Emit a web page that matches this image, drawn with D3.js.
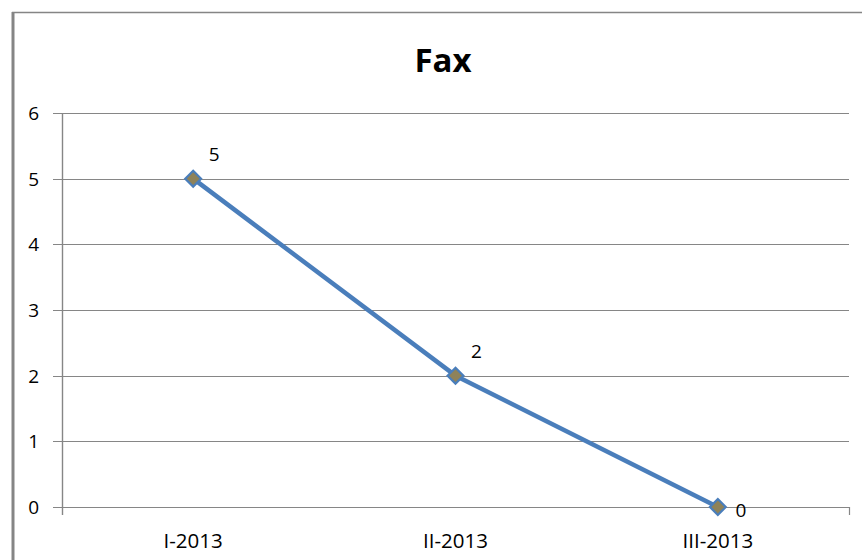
<!DOCTYPE html>
<html><head><meta charset="utf-8">
<script src="https://cdn.jsdelivr.net/npm/d3@7"></script>
<style>body{margin:0;background:#fff}svg{display:block}</style>
</head><body>
<svg id="c" width="862" height="560"></svg>
<script>
const categories = ["I-2013", "II-2013", "III-2013"];
const values = [5, 2, 0];
const yTicks = [0, 1, 2, 3, 4, 5, 6];
const title = "Fax";

(function () {
const svg = d3.select("#c");
const font = "'Open Sans', 'Liberation Sans', sans-serif";

// outer chart border
svg.append("line").attr("x1", 13).attr("x2", 13).attr("y1", 12).attr("y2", 560)
  .attr("stroke", "#858585").attr("stroke-width", 3);
svg.append("line").attr("x1", 12).attr("x2", 862).attr("y1", 12.5).attr("y2", 12.5)
  .attr("stroke", "#858585").attr("stroke-width", 1.5);

const pl = 62, pr = 849, pt = 113, pb = 507;
const x = d3.scaleBand().domain(categories).range([pl, pr]);
const y = d3.scaleLinear().domain([0, 6]).range([pb, pt]);

// gridlines
svg.append("g").selectAll("line").data(yTicks).join("line")
  .attr("x1", pl - 9).attr("x2", pr)
  .attr("y1", d => Math.round(y(d)) + 0.5).attr("y2", d => Math.round(y(d)) + 0.5)
  .attr("stroke", "#868686").attr("stroke-width", 1.2);

// y axis line
svg.append("line").attr("x1", pl + 0.5).attr("x2", pl + 0.5).attr("y1", pt).attr("y2", pb + 8)
  .attr("stroke", "#868686").attr("stroke-width", 1.4);
// right end tick
svg.append("line").attr("x1", pr + 0.5).attr("x2", pr + 0.5).attr("y1", pb).attr("y2", pb + 8)
  .attr("stroke", "#868686").attr("stroke-width", 1.2);

// y tick labels
svg.append("g").selectAll("text").data(yTicks).join("text")
  .attr("x", 39).attr("y", d => y(d) + 7)
  .attr("text-anchor", "end")
  .attr("font-family", font).attr("font-size", 19).attr("fill", "#000")
  .text(d => d);

// x labels
svg.append("g").selectAll("text").data(categories).join("text")
  .attr("x", d => x(d) + x.bandwidth() / 2).attr("y", 548)
  .attr("text-anchor", "middle")
  .attr("font-family", font).attr("font-size", 20.5).attr("fill", "#000")
  .text(d => d);

// title
svg.append("text").attr("x", 443).attr("y", 72).attr("text-anchor", "middle")
  .attr("font-family", font).attr("font-weight", "bold").attr("font-size", 33)
  .attr("fill", "#000").text(title);

const pts = categories.map((c, i) => ({c, v: values[i]}));
const line = d3.line().x(d => x(d.c) + x.bandwidth() / 2).y(d => y(d.v));
svg.append("path").datum(pts).attr("d", line)
  .attr("fill", "none").attr("stroke", "#4a7ebb").attr("stroke-width", 4.5)
  .attr("stroke-linejoin", "round").attr("stroke-linecap", "round");

// markers
svg.append("g").selectAll("path").data(pts).join("path")
  .attr("transform", d => `translate(${x(d.c) + x.bandwidth() / 2},${y(d.v)})`)
  .attr("d", d3.symbol(d3.symbolDiamond2, 160))
  .attr("fill", "#8e8259").attr("stroke", "#4a7ebb").attr("stroke-width", 2.2);

// data labels
svg.append("g").selectAll("text").data(pts).join("text")
  .attr("x", d => x(d.c) + x.bandwidth() / 2 + (d.v === 0 ? 23 : 21))
  .attr("y", d => y(d.v) + (d.v === 0 ? 10 : -18))
  .attr("text-anchor", "middle")
  .attr("font-family", font).attr("font-size", 19).attr("fill", "#000")
  .text(d => d.v);
})();
</script>
</body></html>
